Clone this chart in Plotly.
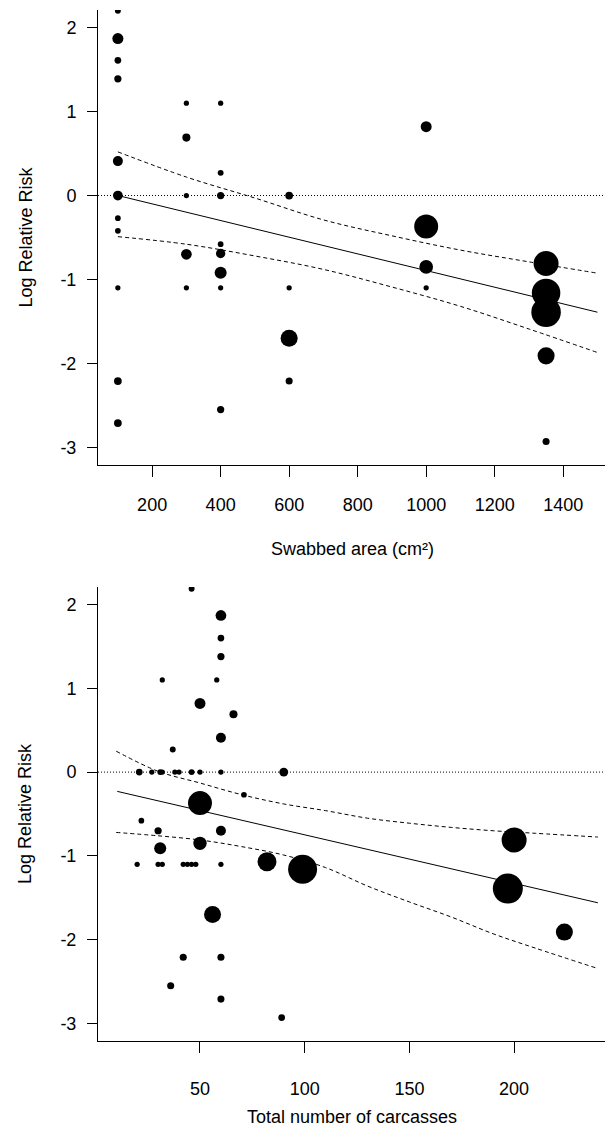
import plotly.graph_objects as go

# ---------------- Panel A: swabbed area ----------------
area = [100, 100, 100, 100, 100, 100, 100, 100, 100, 100, 100,
        300, 300, 300, 300, 300,
        400, 400, 400, 400, 400, 400, 400, 400,
        600, 600, 600, 600,
        1000, 1000, 1000, 1000,
        1350, 1350, 1350, 1350, 1350]
lrr_area = [2.20, 1.87, 1.61, 1.39, 0.41, 0.00, -0.27, -0.42, -1.10, -2.21, -2.71,
            1.10, 0.69, 0.00, -0.70, -1.10,
            1.10, 0.27, 0.00, -0.58, -0.69, -0.92, -1.10, -2.55,
            0.00, -1.10, -1.70, -2.21,
            0.82, -0.37, -0.85, -1.10,
            -0.81, -1.16, -1.39, -1.91, -2.93]
weight_area = [1.4, 4.9, 1.8, 2.1, 4.0, 3.8, 1.3, 1.3, 1.1, 2.4, 2.4,
               1.1, 2.6, 1.1, 4.6, 1.1,
               1.1, 1.4, 2.1, 1.3, 3.5, 5.8, 1.1, 2.1,
               2.4, 1.1, 11.6, 2.0,
               4.8, 23.0, 7.5, 1.1,
               25.0, 32.5, 34.8, 11.6, 2.0]
fit_area_x = [100, 1500]
fit_area_y = [0.00, -1.39]
ci_area_x = [100, 300, 500, 700, 900, 1100, 1300, 1500]
ci_area_hi = [0.52, 0.22, -0.03, -0.29, -0.48, -0.65, -0.79, -0.925]
ci_area_lo = [-0.49, -0.58, -0.72, -0.88, -1.09, -1.32, -1.59, -1.87]

# ---------------- Panel B: total number of carcasses ----------------
carc = [46, 60, 60, 60, 32, 58, 50, 66, 60, 37,
        21, 27, 31, 32, 38, 40, 46, 50, 60, 90,
        71, 50, 22, 30, 60, 50, 31,
        20, 30, 32, 42, 44, 46, 48, 60,
        82, 56, 42, 60, 36, 60, 99, 200, 197, 224, 89]
lrr_carc = [2.19, 1.87, 1.60, 1.38, 1.10, 1.10, 0.82, 0.69, 0.41, 0.27,
            0.00, 0.00, 0.00, 0.00, 0.00, 0.00, 0.00, 0.00, 0.00, 0.00,
            -0.27, -0.37, -0.58, -0.70, -0.70, -0.85, -0.91,
            -1.10, -1.10, -1.10, -1.10, -1.10, -1.10, -1.10, -1.10,
            -1.07, -1.70, -2.21, -2.21, -2.55, -2.71, -1.16, -0.81, -1.39, -1.91, -2.93]
weight_carc = [1.4, 4.6, 1.8, 2.1, 1.1, 1.1, 4.8, 2.6, 4.0, 1.4,
               1.8, 1.1, 1.3, 1.1, 1.1, 1.1, 1.4, 1.1, 1.1, 3.2,
               1.3, 23.0, 1.3, 2.1, 4.0, 7.1, 5.8,
               1.1, 1.1, 1.1, 1.1, 1.1, 1.1, 1.1, 1.1,
               14.4, 11.6, 2.0, 2.0, 2.0, 2.0, 33.6, 25.0, 36.0, 11.6, 1.8]
fit_carc_x = [10.5, 240]
fit_carc_y = [-0.23, -1.56]
ci_carc_x = [10, 30, 50, 70, 90, 110, 130, 150, 170, 190, 210, 240]
ci_carc_hi = [0.25, 0.01, -0.13, -0.27, -0.38, -0.46, -0.55, -0.61, -0.66, -0.70, -0.73, -0.775]
ci_carc_lo = [-0.72, -0.76, -0.81, -0.89, -0.99, -1.14, -1.36, -1.55, -1.73, -1.93, -2.10, -2.345]

# ---------------- Axis labels ----------------
y_tickvals = [-3, -2, -1, 0, 1, 2]
y_ticktext = ["-3", "-2", "-1", "0", "1", "2"]
area_tickvals = [200, 400, 600, 800, 1000, 1200, 1400]
carc_tickvals = [50, 100, 150, 200]
title_area = "Swabbed area (cm²)"
title_carc = "Total number of carcasses"
title_y = "Log Relative Risk"

FONT = "Liberation Sans, Arial, sans-serif"
W, H = 605, 1133
ML, MR, MT, MB = 98, 0, 10, 92
PH = H - MT - MB
PW = W - ML - MR

fig = go.Figure()

def add_panel(xv, yv, wv, fx, fy, cx, chi, clo, xa, ya):
    for band in (chi, clo):
        fig.add_trace(go.Scatter(x=cx, y=band, mode="lines", xaxis=xa, yaxis=ya,
                                 line=dict(color="black", width=1, dash="4px,3px", shape="spline"),
                                 hoverinfo="skip", showlegend=False))
    fig.add_trace(go.Scatter(x=fx, y=fy, mode="lines", xaxis=xa, yaxis=ya,
                             line=dict(color="black", width=1), hoverinfo="skip", showlegend=False))
    fig.add_trace(go.Scatter(x=xv, y=yv, mode="markers", xaxis=xa, yaxis=ya,
                             marker=dict(color="black", opacity=1, size=wv, sizemode="area",
                                         sizeref=0.08, line=dict(width=0)),
                             showlegend=False))

add_panel(area, lrr_area, weight_area, fit_area_x, fit_area_y,
          ci_area_x, ci_area_hi, ci_area_lo, "x", "y")
add_panel(carc, lrr_carc, weight_carc, fit_carc_x, fit_carc_y,
          ci_carc_x, ci_carc_hi, ci_carc_lo, "x2", "y2")

top_dom = [1 - 455 / PH, 1]
bot_dom = [0, 454 / PH]

axis_common = dict(showline=True, linecolor="black", linewidth=1, mirror=False,
                   ticks="outside", tickcolor="black", tickwidth=1,
                   showgrid=False, zeroline=False,
                   tickfont=dict(family=FONT, size=18, color="black"))

fig.update_layout(
    width=W, height=H,
    margin=dict(l=ML, r=MR, t=MT, b=MB),
    paper_bgcolor="white", plot_bgcolor="white",
    font=dict(family=FONT, size=18, color="black"),
    xaxis=dict(domain=[0, 1], anchor="y", range=[42, 1522],
               tickvals=area_tickvals, ticklen=11, ticklabelstandoff=12, **axis_common),
    yaxis=dict(domain=top_dom, anchor="x", range=[-3.21, 2.21],
               tickvals=y_tickvals, ticktext=y_ticktext, ticklen=10,
               ticklabelstandoff=7, **axis_common),
    xaxis2=dict(domain=[0, 1], anchor="y2", range=[1.3, 243.4],
                tickvals=carc_tickvals, ticklen=11, ticklabelstandoff=20, **axis_common),
    yaxis2=dict(domain=bot_dom, anchor="x2", range=[-3.21, 2.21],
                tickvals=y_tickvals, ticktext=y_ticktext, ticklen=10,
                ticklabelstandoff=7, **axis_common),
)

# dotted reference line at zero
for xr, yr in (("x domain", "y"), ("x2 domain", "y2")):
    fig.add_shape(type="line", xref=xr, yref=yr, x0=0, x1=1, y0=0, y1=0,
                  line=dict(color="black", width=1, dash="1px,2px"))

def px_x(p):
    return (p - ML) / PW

def px_y(p):
    return (H - MB - p) / PH

ann = dict(xref="paper", yref="paper", showarrow=False,
           font=dict(family=FONT, size=18, color="black"))
fig.add_annotation(text=title_y, x=px_x(25), y=px_y(237.5), textangle=-90,
                   xanchor="center", yanchor="middle", **ann)
fig.add_annotation(text=title_y, x=px_x(25), y=px_y(814), textangle=-90,
                   xanchor="center", yanchor="middle", **ann)
fig.add_annotation(text=title_area, x=px_x(352), y=px_y(549),
                   xanchor="center", yanchor="middle", **ann)
fig.add_annotation(text=title_carc, x=px_x(352), y=px_y(1117),
                   xanchor="center", yanchor="middle", **ann)

fig.write_html("out.html", config={"displayModeBar": False},
               post_script="document.body.style.margin='0';")
